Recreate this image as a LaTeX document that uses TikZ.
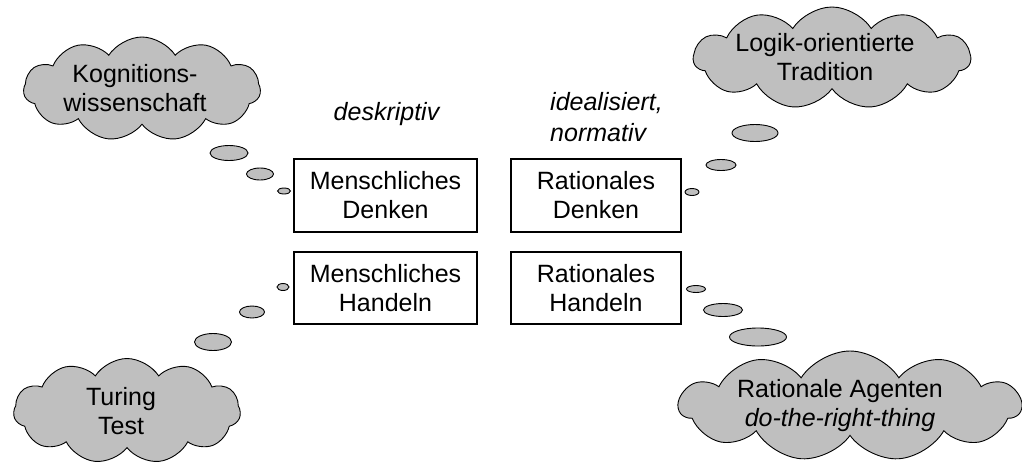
\documentclass[tikz,border=0pt]{standalone}
\usepackage{fontspec}
\setmainfont{Liberation Sans}
\usetikzlibrary{shapes.symbols,shapes.geometric}

\tikzset{
  txt/.style={font=\fontsize{25}{29}\selectfont, align=center, inner sep=0pt},
  itxt/.style={font=\fontsize{25}{31}\selectfont\itshape, inner sep=0pt},
  fieldbox/.style={draw, line width=1.2pt, inner sep=0pt},
  thought/.style={cloud, cloud puffs=11, cloud puff arc=115, cloud ignores aspect,
    draw, line width=0.9pt, fill=gray!50, inner sep=0pt},
  bubble/.style={ellipse, draw, line width=0.9pt, fill=gray!50, inner sep=0pt}
}

\begin{document}
\begin{tikzpicture}[x=1pt,y=-1pt]
\useasboundingbox (0,0) rectangle (1022,464);

% the four fields
\node[fieldbox, minimum width=183, minimum height=73] (md) at (385.5,195.5) {};
\node[fieldbox, minimum width=183, minimum height=72] (mh) at (385.5,288) {};
\node[fieldbox, minimum width=170, minimum height=73] (rd) at (596,195.5) {};
\node[fieldbox, minimum width=170, minimum height=72] (rh) at (596,288) {};
\node[txt] (mdt) at (md) {Menschliches\\Denken};
\node[txt] (mht) at (mh) {Menschliches\\Handeln};
\node[txt] (rdt) at (rd) {Rationales\\Denken};
\node[txt] (rht) at (rh) {Rationales\\Handeln};

% column headings
\node[itxt, anchor=base] (desk) at (386.5,120) {deskriptiv};
\node[itxt, anchor=base west] (ideal) at (550,110) {idealisiert,};
\node[itxt, anchor=base west] (norm) at (550,141) {normativ};

% thought clouds
\node[thought, minimum width=237, minimum height=104] (kog) at (142,89) {};
\node[thought, minimum width=277, minimum height=102] (log) at (832,58) {};
\node[thought, minimum width=227, minimum height=105] (tur) at (127,411) {};
\node[thought, minimum width=342, minimum height=110] (agt) at (850,406) {};
\node[txt] (kogt) at (135,88) {Kognitions-\\wissenschaft};
\node[txt] (logt) at (825,57) {Logik-orientierte\\Tradition};
\node[txt] (turt) at (121,411) {Turing\\Test};
\node[txt] (agtt) at (840,406) {Rationale Agenten\\\itshape do-the-right-thing};

% bubbles leading from the fields to the clouds
\node[bubble, minimum width=38, minimum height=15] (kb1) at (229,153) {};
\node[bubble, minimum width=27, minimum height=12] (kb2) at (260,174) {};
\node[bubble, minimum width=13, minimum height=6] (kb3) at (284,191) {};

\node[bubble, minimum width=46, minimum height=17] (lb1) at (755,133) {};
\node[bubble, minimum width=30, minimum height=11] (lb2) at (721,165) {};
\node[bubble, minimum width=14, minimum height=7] (lb3) at (692,192) {};

\node[bubble, minimum width=12, minimum height=7] (tb3) at (283,287) {};
\node[bubble, minimum width=25, minimum height=12] (tb2) at (252,312) {};
\node[bubble, minimum width=37, minimum height=17] (tb1) at (213,342) {};

\node[bubble, minimum width=19, minimum height=7] (ab3) at (696,289) {};
\node[bubble, minimum width=39, minimum height=13] (ab2) at (723,310) {};
\node[bubble, minimum width=57, minimum height=18] (ab1) at (758,337) {};
\end{tikzpicture}
\end{document}
